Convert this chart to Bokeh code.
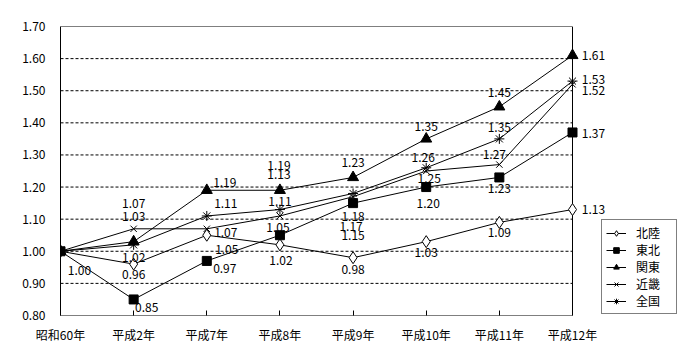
from bokeh.plotting import figure
from bokeh.models import (Range1d, FixedTicker, PrintfTickFormatter, Legend, LegendItem,
                          ColumnDataSource)
from bokeh.core.properties import value
from bokeh.embed import file_html
from bokeh.resources import INLINE

# ---- data ----
categories = ["昭和60年", "平成2年", "平成7年", "平成8年", "平成9年", "平成10年", "平成11年", "平成12年"]
hokuriku = [1.00, 0.96, 1.05, 1.02, 0.98, 1.03, 1.09, 1.13]
tohoku   = [1.00, 0.85, 0.97, 1.05, 1.15, 1.20, 1.23, 1.37]
kanto    = [1.00, 1.03, 1.19, 1.19, 1.23, 1.35, 1.45, 1.61]
kinki    = [1.00, 1.07, 1.07, 1.11, 1.17, 1.25, 1.27, 1.52]
zenkoku  = [1.00, 1.02, 1.11, 1.13, 1.18, 1.26, 1.35, 1.53]
series_names = ["北陸", "東北", "関東", "近畿", "全国"]
y_ticks = [0.80, 0.90, 1.00, 1.10, 1.20, 1.30, 1.40, 1.50, 1.60, 1.70]

# ---- label placement (screen px offsets dx, dy; None = no label) ----
label_offsets = {
    "北陸": [(19, 19), (0, 10), (20, 14), (1, 16), (0, 12), (0, 11), (0, 10), (21, 0)],
    "東北": [None, (13, 8), (18, 8), (-2, -8), (0, 32), (2, 16), (0, 11), (21, 1)],
    "関東": [None, (0, -25), (18, -8), (-1, -25), (0, -15), (0, -12), (0, -14), (21, 0)],
    "近畿": [None, (0, -25), (19, 4), (0, -14), (-2, 30), (3, 7), (-5, -10), (21, 6)],
    "全国": [None, (0, 13), (19, -12), (-1, -35), (0, 23), (-3, -10), (0, -11), (21, -2)],
}

FONT = "Noto Sans CJK JP"
n = len(categories)
last = n - 1
PLOT_W, PLOT_H = 692, 352
BL, BR, BT, BB = 60, 4, 26, 37
# frame extends past the last category so end labels/legend are not clipped
px_per_cat = 512 / last
x_end = (PLOT_W - BL - BR) / px_per_cat

p = figure(width=PLOT_W, height=PLOT_H, output_backend="svg", toolbar_location=None,
           x_range=Range1d(0, x_end), y_range=Range1d(y_ticks[0], y_ticks[-1]),
           min_border_left=BL, min_border_right=BR, min_border_top=BT, min_border_bottom=BB)
p.background_fill_color = "white"
p.border_fill_color = "white"
p.outline_line_color = None
p.xgrid.visible = False
p.ygrid.visible = False

# dashed grid lines and plot box, limited to the category span
inner = y_ticks[1:-1]
p.segment(x0=[0] * len(inner), x1=[last] * len(inner), y0=inner, y1=inner,
          line_color="black", line_width=1, line_dash="3 2")
p.segment(x0=[0, 0, last], x1=[last, last, last],
          y0=[y_ticks[-1], y_ticks[0], y_ticks[0]], y1=[y_ticks[-1], y_ticks[0], y_ticks[-1]],
          line_color="black", line_width=1)

p.yaxis.ticker = FixedTicker(ticks=y_ticks)
p.yaxis.formatter = PrintfTickFormatter(format="%.2f")
p.yaxis.major_tick_line_color = None
p.yaxis.minor_tick_line_color = None
p.yaxis.axis_line_color = "black"
p.yaxis.major_label_text_font = FONT
p.yaxis.major_label_text_font_size = "12px"
p.yaxis.major_label_text_color = "black"
p.yaxis.major_label_standoff = 9

xs = list(range(n))
p.xaxis.ticker = FixedTicker(ticks=xs)
p.xaxis.major_label_overrides = {i: c for i, c in enumerate(categories)}
p.xaxis.major_tick_in = 5
p.xaxis.major_tick_out = 0
p.xaxis.major_tick_line_color = "black"
p.xaxis.minor_tick_line_color = None
p.xaxis.axis_line_color = None
p.xaxis.major_label_text_font = FONT
p.xaxis.major_label_text_font_size = "12px"
p.xaxis.major_label_text_color = "black"
p.xaxis.major_label_standoff = 10

series = [
    ("北陸", hokuriku, "diamond", 12, "white"),
    ("東北", tohoku, "square", 9, "black"),
    ("関東", kanto, "triangle", 11, "black"),
    ("近畿", kinki, "x", 9, "black"),
    ("全国", zenkoku, "asterisk", 10, "black"),
]

items = []
for name, vals, marker, size, fill in series:
    lr = p.line(xs, vals, line_color="black", line_width=1)
    sr = p.scatter(xs, vals, marker=marker, size=size, fill_color=fill, line_color="black",
                   line_width=1)
    items.append(LegendItem(label=name, renderers=[lr, sr]))
    lx, ly, lt, dx, dy = [], [], [], [], []
    for i, v in enumerate(vals):
        off = label_offsets[name][i]
        if off is None:
            continue
        lx.append(xs[i]); ly.append(v); lt.append(f"{v:.2f}")
        dx.append(off[0]); dy.append(off[1])
    src = ColumnDataSource(dict(x=lx, y=ly, t=lt, dx=dx, dy=dy))
    p.text(x="x", y="y", text="t", x_offset="dx", y_offset="dy", source=src,
           text_align="center", text_baseline="middle", text_font=value(FONT),
           text_font_size="12px", text_color="black")

legend = Legend(items=items, location=(541, 1))
legend.margin = 0
legend.padding = 4
legend.spacing = 0
legend.glyph_width = 20
legend.glyph_height = 14
legend.label_height = 14
legend.label_width = 36
legend.label_standoff = 10
legend.label_text_font = FONT
legend.label_text_font_size = "12px"
legend.label_text_color = "black"
legend.border_line_color = "black"
legend.border_line_width = 1
legend.background_fill_color = "white"
legend.background_fill_alpha = 1
p.add_layout(legend, "center")

open("out.html", "w").write(file_html(p, INLINE))
